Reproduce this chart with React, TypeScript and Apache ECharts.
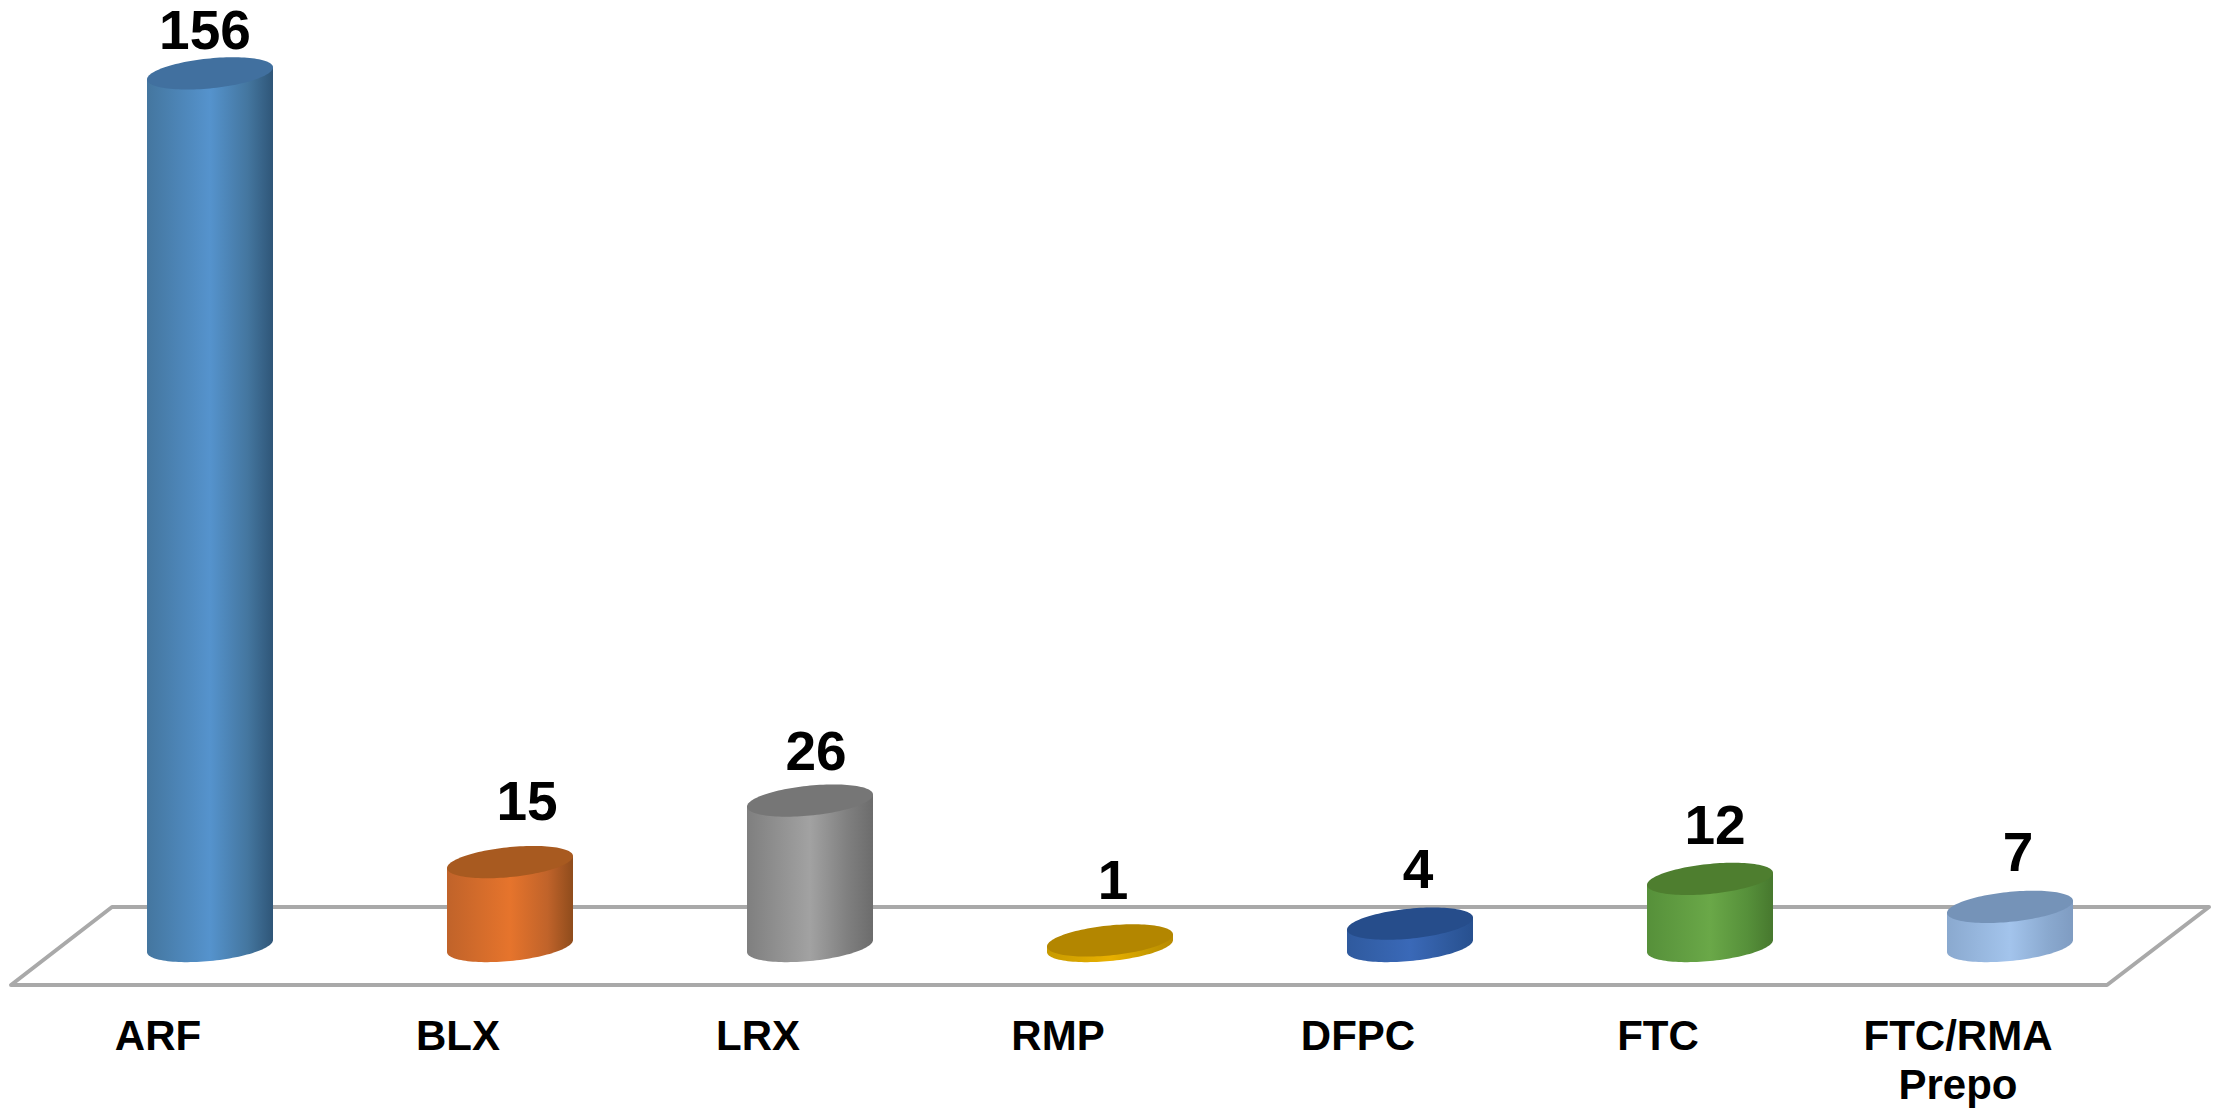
import React, { useEffect, useRef } from "react";
import * as echarts from "echarts";

const categories = ["ARF", "BLX", "LRX", "RMP", "DFPC", "FTC", "FTC/RMA\nPrepo"];
const values = [156, 15, 26, 1, 4, 12, 7];

// [left side, centre highlight, right side, top face]
const palette = [
  ["#44769f", "#5593cd", "#2f5678", "#41709f"],
  ["#c0632a", "#e6742c", "#8f4c1c", "#a85a20"],
  ["#7f7f7f", "#a2a2a2", "#6c6c6c", "#767676"],
  ["#c79a00", "#e8b000", "#b88a00", "#b38600"],
  ["#2f5a9e", "#3a69b8", "#27508f", "#264d8b"],
  ["#56903a", "#6aa848", "#47782e", "#4e7e2f"],
  ["#8aa9cf", "#a3c4ec", "#7f9cc2", "#7593b8"],
];
const labelNudgeX = [-5, 17, 6, 3, 8, 5, 8];
const labelNudgeY = [-43, -61, -50, -60, -55, -54, -55];

const FONT = "'Liberation Sans', Arial, sans-serif";
const RX = 63;
const TILT = 6;
const RY = 15;
const STEPS = 60;

function edgePoint(cx: number, cy: number, t: number): number[] {
  return [cx + RX * Math.cos(t), cy - TILT * Math.cos(t) + RY * Math.sin(t)];
}

function renderCylinder(params: any, api: any) {
  const i = params.dataIndex;
  const [cx, baseY] = api.coord([api.value(0), 0]);
  const [, topY] = api.coord([api.value(0), api.value(1)]);
  const [left, mid, right, top] = palette[i];

  const body: number[][] = [edgePoint(cx, topY, 0)];
  for (let s = 0; s <= STEPS; s++) body.push(edgePoint(cx, baseY, (Math.PI * s) / STEPS));
  body.push(edgePoint(cx, topY, Math.PI));

  const face: number[][] = [];
  for (let s = 0; s < STEPS * 2; s++) face.push(edgePoint(cx, topY, (Math.PI * s) / STEPS));

  return {
    type: "group",
    children: [
      {
        type: "polygon",
        shape: { points: body },
        style: {
          fill: {
            type: "linear",
            x: 0,
            y: 0,
            x2: 1,
            y2: 0,
            colorStops: [
              { offset: 0, color: left },
              { offset: 0.5, color: mid },
              { offset: 0.8, color: left },
              { offset: 1, color: right },
            ],
          },
        },
      },
      { type: "polygon", shape: { points: face }, style: { fill: top } },
      {
        type: "text",
        style: {
          text: String(values[i]),
          x: cx + labelNudgeX[i],
          y: topY + labelNudgeY[i],
          align: "center",
          verticalAlign: "middle",
          font: `bold 55px ${FONT}`,
          fill: "#000",
        },
      },
    ],
  };
}

export default function App() {
  const ref = useRef<HTMLDivElement>(null);
  useEffect(() => {
    const chart = echarts.init(ref.current!, null, { renderer: "svg" });
    chart.setOption({
      animation: false,
      backgroundColor: "#fff",
      grid: { left: 60, width: 2100, top: 51, height: 896 },
      xAxis: {
        type: "category",
        data: categories,
        axisLine: { show: false },
        axisTick: { show: false },
        splitLine: { show: false },
        axisLabel: {
          interval: 0,
          margin: 65,
          padding: [0, 104, 0, 0],
          fontFamily: FONT,
          fontWeight: "bold",
          fontSize: 42,
          lineHeight: 49,
          color: "#000",
        },
      },
      yAxis: { type: "value", min: 0, max: 160, show: false },
      graphic: [
        {
          type: "polygon",
          z: 0,
          shape: { points: [[11, 985], [112, 907], [2209, 907], [2107, 985]] },
          style: { fill: "none", stroke: "#a9a9a9", lineWidth: 4, lineJoin: "round" },
        },
      ],
      series: [
        {
          type: "custom",
          z: 5,
          clip: false,
          renderItem: renderCylinder,
          encode: { x: 0, y: 1 },
          data: values.map((v, i) => [i, v]),
        },
      ],
    });
    return () => chart.dispose();
  }, []);
  return <div ref={ref} style={{ position: "fixed", left: 0, top: 0, width: 2221, height: 1109 }} />;
}
